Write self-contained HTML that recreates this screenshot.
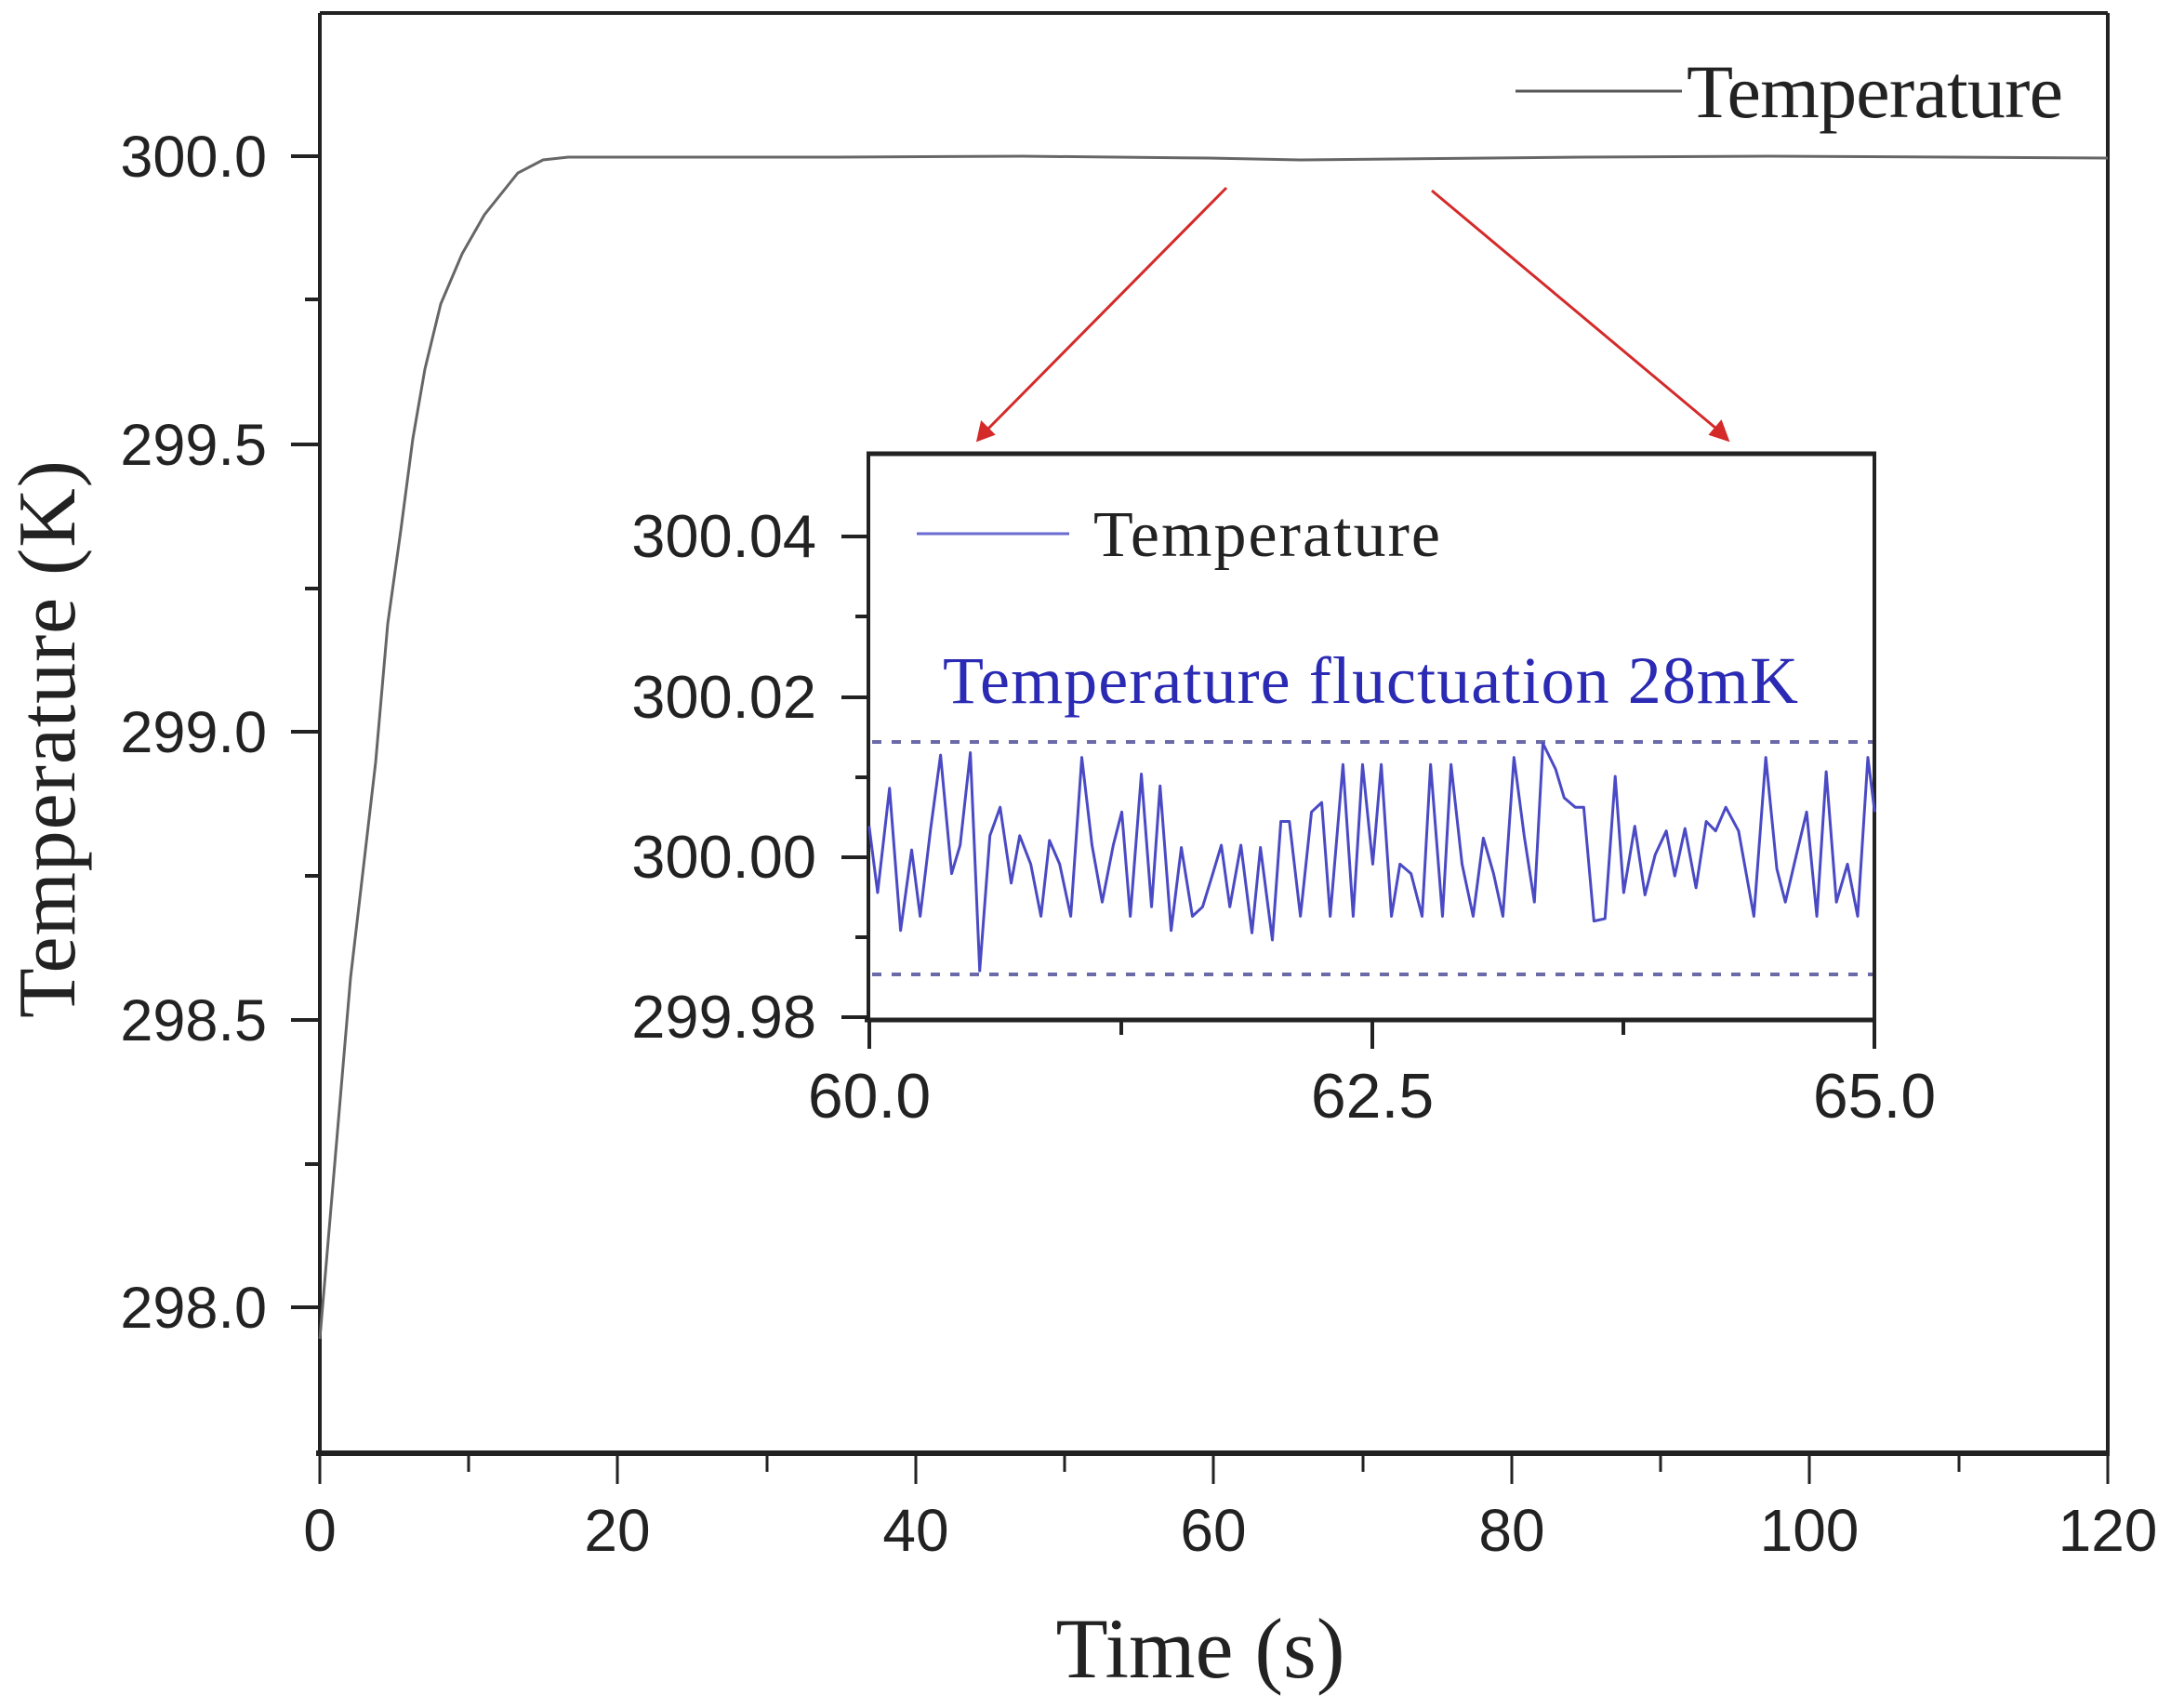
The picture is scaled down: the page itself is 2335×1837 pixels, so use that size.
<!DOCTYPE html>
<html><head><meta charset="utf-8"><style>html,body{margin:0;padding:0;background:#fff}svg{display:block}</style></head>
<body>
<svg width="2335" height="1837" viewBox="0 0 2335 1837" xmlns="http://www.w3.org/2000/svg">
<rect width="2335" height="1837" fill="#fff"/>
<!-- main frame -->
<g stroke="#222" fill="none">
<line x1="344" y1="14" x2="2267" y2="14" stroke-width="4"/>
<line x1="2267" y1="14" x2="2267" y2="1563" stroke-width="4"/>
<line x1="344" y1="14" x2="344" y2="1563" stroke-width="4"/>
<line x1="340" y1="1563" x2="2269" y2="1563" stroke-width="6"/>
<!-- y ticks -->
<line x1="313" y1="168" x2="344" y2="168" stroke-width="4"/>
<line x1="313" y1="478" x2="344" y2="478" stroke-width="4"/>
<line x1="313" y1="787" x2="344" y2="787" stroke-width="4"/>
<line x1="313" y1="1097" x2="344" y2="1097" stroke-width="4"/>
<line x1="313" y1="1406" x2="344" y2="1406" stroke-width="4"/>
<line x1="328" y1="322" x2="344" y2="322" stroke-width="4"/>
<line x1="328" y1="633" x2="344" y2="633" stroke-width="4"/>
<line x1="328" y1="942" x2="344" y2="942" stroke-width="4"/>
<line x1="328" y1="1252" x2="344" y2="1252" stroke-width="4"/>
<!-- x ticks -->
<g stroke-width="3">
<line x1="344" y1="1563" x2="344" y2="1596"/><line x1="664" y1="1563" x2="664" y2="1596"/>
<line x1="985" y1="1563" x2="985" y2="1596"/><line x1="1305" y1="1563" x2="1305" y2="1596"/>
<line x1="1626" y1="1563" x2="1626" y2="1596"/><line x1="1946" y1="1563" x2="1946" y2="1596"/>
<line x1="2267" y1="1563" x2="2267" y2="1596"/>
<line x1="504" y1="1563" x2="504" y2="1583"/><line x1="825" y1="1563" x2="825" y2="1583"/>
<line x1="1145" y1="1563" x2="1145" y2="1583"/><line x1="1466" y1="1563" x2="1466" y2="1583"/>
<line x1="1786" y1="1563" x2="1786" y2="1583"/><line x1="2107" y1="1563" x2="2107" y2="1583"/>
</g>
</g>
<g font-family="Liberation Sans, sans-serif" font-size="63" fill="#222" text-anchor="end">
<text x="287" y="190">300.0</text>
<text x="287" y="500">299.5</text>
<text x="287" y="809">299.0</text>
<text x="287" y="1119">298.5</text>
<text x="287" y="1428">298.0</text>
</g>
<g font-family="Liberation Sans, sans-serif" font-size="64" fill="#222" text-anchor="middle">
<text x="344" y="1668">0</text><text x="664" y="1668">20</text><text x="985" y="1668">40</text>
<text x="1305" y="1668">60</text><text x="1626" y="1668">80</text><text x="1946" y="1668">100</text>
<text x="2267" y="1668">120</text>
</g>
<text x="1291" y="1804" font-family="Liberation Serif, serif" font-size="92" fill="#222" text-anchor="middle">Time (s)</text>
<text transform="translate(80,795) rotate(-90)" font-family="Liberation Serif, serif" font-size="88" fill="#222" text-anchor="middle" textLength="600">Temperature (K)</text>
<!-- main legend -->
<line x1="1630" y1="98" x2="1809" y2="98" stroke="#555" stroke-width="3"/>
<text x="1814" y="126" font-family="Liberation Serif, serif" font-size="82" fill="#222" textLength="405">Temperature</text>
<!-- main curve -->
<polyline fill="none" stroke="#666" stroke-width="3" points="344,1440 377,1052 404,820 417,671 431,571 444,472 457,397 474,327 497,273 521,231 557,186 584,172 611,169 644,169 900,169 1100,168 1300,170 1400,172 1500,171 1700,169 1900,168 2100,169 2267,170"/>
<!-- arrows -->
<g stroke="#d42a2a" stroke-width="3" fill="#d42a2a">
<line x1="1319" y1="202" x2="1058" y2="466"/>
<polygon points="1052,473 1056,455 1068,467"/>
<line x1="1540" y1="205" x2="1852" y2="466"/>
<polygon points="1858,473 1840,467 1851,454"/>
</g>
<!-- inset -->
<rect x="934" y="488" width="1082" height="609" fill="#fff"/>
<g stroke="#222" fill="none">
<line x1="932" y1="488" x2="2018" y2="488" stroke-width="5"/>
<line x1="934" y1="488" x2="934" y2="1097" stroke-width="4"/>
<line x1="2016" y1="488" x2="2016" y2="1097" stroke-width="4"/>
<line x1="930" y1="1097" x2="2018" y2="1097" stroke-width="5"/>
<g stroke-width="4">
<line x1="905" y1="577" x2="934" y2="577"/><line x1="905" y1="750" x2="934" y2="750"/>
<line x1="905" y1="922" x2="934" y2="922"/><line x1="905" y1="1094" x2="934" y2="1094"/>
<line x1="920" y1="663" x2="934" y2="663"/><line x1="920" y1="836" x2="934" y2="836"/>
<line x1="920" y1="1008" x2="934" y2="1008"/>
<line x1="935" y1="1097" x2="935" y2="1128"/><line x1="1476" y1="1097" x2="1476" y2="1128"/>
<line x1="2016" y1="1097" x2="2016" y2="1128"/>
<line x1="1206" y1="1097" x2="1206" y2="1113"/><line x1="1746" y1="1097" x2="1746" y2="1113"/>
</g>
</g>
<g font-family="Liberation Sans, sans-serif" font-size="65" fill="#222" text-anchor="end">
<text x="878" y="599">300.04</text><text x="878" y="772">300.02</text>
<text x="878" y="944">300.00</text><text x="878" y="1116">299.98</text>
</g>
<g font-family="Liberation Sans, sans-serif" font-size="68" fill="#222" text-anchor="middle">
<text x="935" y="1202">60.0</text><text x="1476" y="1202">62.5</text><text x="2016" y="1202">65.0</text>
</g>
<line x1="986" y1="574" x2="1150" y2="574" stroke="#6a6ad0" stroke-width="3"/>
<text x="1176" y="598" font-family="Liberation Serif, serif" font-size="70" fill="#222" textLength="373">Temperature</text>
<text x="1014" y="756" font-family="Liberation Serif, serif" font-size="72" fill="#2a2ab4" textLength="920">Temperature fluctuation 28mK</text>
<g stroke="#6a6aa8" stroke-width="4" stroke-dasharray="10,11">
<line x1="938" y1="798" x2="2014" y2="798"/>
<line x1="938" y1="1048" x2="2014" y2="1048"/>
</g>
<g transform="translate(900,450) scale(0.915,0.51)">
<polyline fill="none" stroke="#4a4ac4" stroke-width="3" vector-effect="non-scaling-stroke" stroke-linejoin="round" points="38,860 48,1000 62,780 75,1080 88,910 98,1050 110,870 122,710 135,960 145,900 157,705 168,1165 180,880 192,820 205,980 215,880 228,940 240,1050 250,890 262,940 275,1050 288,715 300,900 312,1020 325,900 335,830 345,1050 358,750 370,1030 380,775 393,1080 405,905 418,1050 430,1030 442,960 452,900 462,1030 475,900 488,1085 498,905 512,1100 522,850 532,850 545,1050 558,830 570,810 580,1050 595,730 607,1050 618,730 630,940 640,730 652,1050 662,940 675,960 688,1050 698,730 712,1050 722,730 735,940 748,1050 760,885 772,960 783,1050 796,715 808,880 820,1020 830,685 845,740 855,800 868,820 878,820 890,1060 903,1055 915,755 925,1000 938,860 950,1005 962,920 975,870 985,965 997,865 1010,990 1022,850 1033,870 1045,820 1060,870 1078,1050 1092,715 1105,950 1115,1020 1128,920 1140,830 1152,1050 1163,745 1175,1020 1188,940 1200,1050 1212,715 1220,830"/>
</g>
</svg>
</body></html>
